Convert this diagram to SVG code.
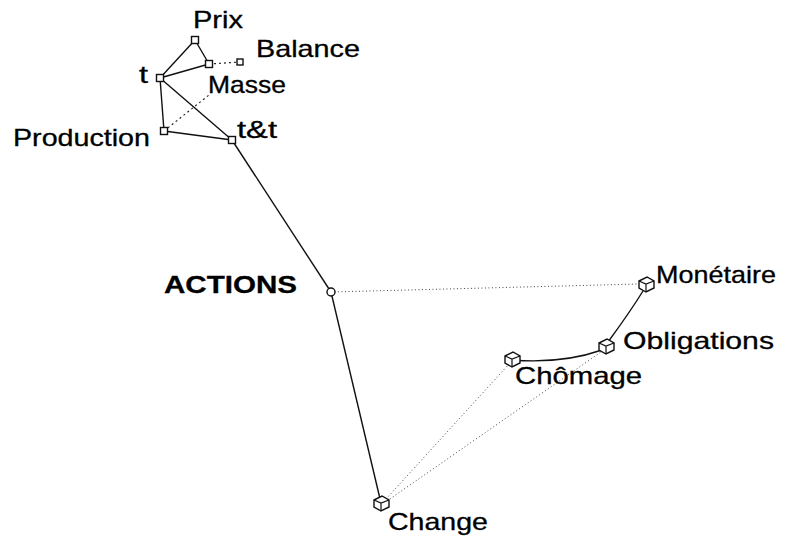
<svg xmlns="http://www.w3.org/2000/svg" xmlns:xlink="http://www.w3.org/1999/xlink" width="798" height="542" viewBox="0 0 798 542">
  <style>
    text { font-family: "Liberation Sans", Arial, sans-serif; font-size: 24px; fill: #000; stroke: #000; stroke-width: 0.3; }
    .bold { font-weight: bold; }
    .solid { fill: none; stroke: #111; stroke-width: 1.4; }
    .dash { fill: none; stroke: #222; stroke-width: 1.2; stroke-dasharray: 2 3; }
    .dot { fill: none; stroke: #444; stroke-width: 1; stroke-dasharray: 1 2.5; }
    .box { fill: #fff; stroke: #111; stroke-width: 1.4; }
  </style>
  <defs>
    <!-- small square marker for the upper nodes -->
    <rect id="sq" x="-3.5" y="-3.5" width="7" height="7" class="box"/>
    <!-- small cube marker for the lower nodes -->
    <g id="cube">
      <path d="M-7,-3 L1,-7 L8,-3 L8,4 L0,8 L-7,4 Z" class="box"/>
      <path d="M-7,-3 L0,0 L8,-3 M0,0 L0,8" fill="none" stroke="#111" stroke-width="1.2"/>
    </g>
  </defs>

  <g id="connectors">
    <!-- upper cluster -->
    <line class="solid" x1="160" y1="78" x2="195" y2="40"/>
    <line class="solid" x1="195" y1="40" x2="209" y2="64"/>
    <line class="solid" x1="160" y1="78" x2="209" y2="64"/>
    <line class="dash" x1="209" y1="64" x2="240" y2="62"/>
    <line class="solid" x1="160" y1="78" x2="164" y2="131"/>
    <line class="solid" x1="160" y1="78" x2="232" y2="140"/>
    <line class="solid" x1="164" y1="131" x2="232" y2="140"/>
    <line class="dash" x1="164" y1="131" x2="209" y2="95"/>
    <!-- trunk -->
    <line class="solid" x1="232" y1="140" x2="331" y2="292"/>
    <line class="solid" x1="331" y1="292" x2="381" y2="503"/>
    <line class="dot" x1="331" y1="292" x2="639" y2="284"/>
    <!-- lower cluster -->
    <path class="solid" d="M643,291 Q630,312 608,342"/>
    <path class="solid" d="M512,360 Q562,364 602,350"/>
    <line class="dot" x1="386" y1="499" x2="510" y2="363"/>
    <line class="dot" x1="387" y1="501" x2="601" y2="352"/>
  </g>

  <g id="node-prix">
    <use xlink:href="#sq" x="195" y="40"/>
    <text x="193" y="28" textLength="50" lengthAdjust="spacingAndGlyphs">Prix</text>
  </g>
  <g id="node-balance">
    <rect x="237" y="59" width="6" height="6" class="box"/>
    <text x="256" y="57" textLength="104" lengthAdjust="spacingAndGlyphs">Balance</text>
  </g>
  <g id="node-masse">
    <use xlink:href="#sq" x="209" y="64"/>
    <text x="208" y="93" textLength="78" lengthAdjust="spacingAndGlyphs">Masse</text>
  </g>
  <g id="node-t">
    <use xlink:href="#sq" x="160" y="78"/>
    <text x="139" y="83" textLength="9" lengthAdjust="spacingAndGlyphs">t</text>
  </g>
  <g id="node-production">
    <use xlink:href="#sq" x="164" y="131"/>
    <text x="13" y="146" textLength="137" lengthAdjust="spacingAndGlyphs">Production</text>
  </g>
  <g id="node-tt">
    <use xlink:href="#sq" x="232" y="140"/>
    <text x="237" y="138" textLength="40" lengthAdjust="spacingAndGlyphs">t&amp;t</text>
  </g>
  <g id="node-actions">
    <circle cx="331" cy="292" r="4" class="box"/>
    <text class="bold" x="164" y="293" textLength="133" lengthAdjust="spacingAndGlyphs">ACTIONS</text>
  </g>
  <g id="node-monetaire">
    <use xlink:href="#cube" x="646" y="284"/>
    <text x="656" y="283" textLength="120" lengthAdjust="spacingAndGlyphs">Monétaire</text>
  </g>
  <g id="node-obligations">
    <use xlink:href="#cube" x="606" y="346"/>
    <text x="623" y="349" textLength="151" lengthAdjust="spacingAndGlyphs">Obligations</text>
  </g>
  <g id="node-chomage">
    <use xlink:href="#cube" x="512" y="359"/>
    <text x="515" y="384" textLength="127" lengthAdjust="spacingAndGlyphs">Chômage</text>
  </g>
  <g id="node-change">
    <use xlink:href="#cube" x="381" y="503"/>
    <text x="388" y="530" textLength="100" lengthAdjust="spacingAndGlyphs">Change</text>
  </g>
</svg>
